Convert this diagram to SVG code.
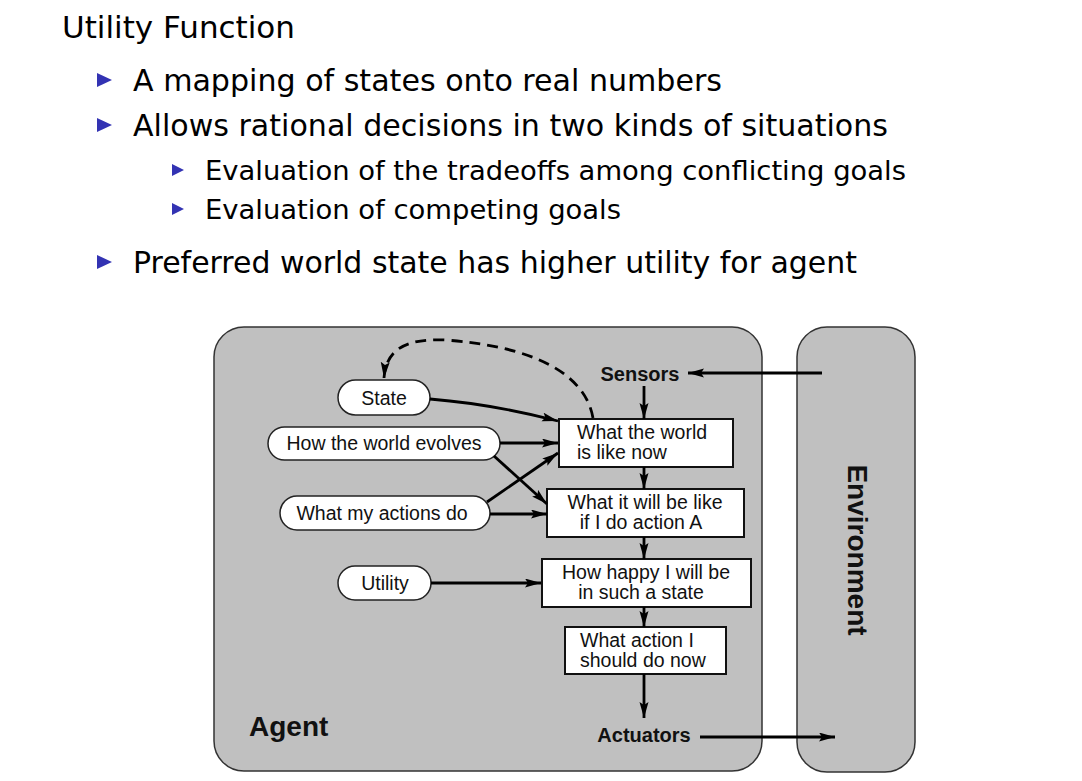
<svg xmlns="http://www.w3.org/2000/svg" width="1082" height="781" viewBox="0 0 1082 781">
<style>
.slide{font-family:"DejaVu Sans",sans-serif;fill:#000}
.t{font-family:"Liberation Sans",Arial,sans-serif;font-size:19.5px;fill:#111}
.b{font-family:"Liberation Sans",Arial,sans-serif;font-weight:bold;fill:#111}
.panel{fill:#c0c0c0;stroke:#333;stroke-width:1.5}
.oval{fill:#fff;stroke:#222;stroke-width:1.5}
.box{fill:#fff;stroke:#111;stroke-width:2}
.bul{fill:#3333b3}
.ar{fill:none;stroke:#000;stroke-width:2.8;marker-end:url(#ah)}
.dash{fill:none;stroke:#000;stroke-width:2.8;stroke-dasharray:11 7;marker-end:url(#ah)}
</style>
<defs>
<marker id="ah" markerUnits="userSpaceOnUse" markerWidth="17" markerHeight="10" refX="16" refY="4.5" orient="auto">
<path d="M0,0 L16,4.5 L0,9 L3,4.5 Z" fill="#000"/>
</marker>
</defs>
<rect width="1082" height="781" fill="#fff"/>
<g id="slide-text">
<text class="slide" x="62" y="38" font-size="31" textLength="233" lengthAdjust="spacingAndGlyphs">Utility Function</text>
<polygon class="bul" points="97,73 112,80 97,87"/>
<text class="slide" x="133" y="91" font-size="30" textLength="589" lengthAdjust="spacingAndGlyphs">A mapping of states onto real numbers</text>
<polygon class="bul" points="97,118 112,125 97,132"/>
<text class="slide" x="133" y="136" font-size="30" textLength="755" lengthAdjust="spacingAndGlyphs">Allows rational decisions in two kinds of situations</text>
<polygon class="bul" points="172,164 184,170 172,176"/>
<text class="slide" x="205" y="180" font-size="27" textLength="701" lengthAdjust="spacingAndGlyphs">Evaluation of the tradeoffs among conflicting goals</text>
<polygon class="bul" points="172,203 184,209 172,215"/>
<text class="slide" x="205" y="219" font-size="27" textLength="416" lengthAdjust="spacingAndGlyphs">Evaluation of competing goals</text>
<polygon class="bul" points="97,255 112,262 97,269"/>
<text class="slide" x="133" y="273" font-size="30" textLength="724" lengthAdjust="spacingAndGlyphs">Preferred world state has higher utility for agent</text>
</g>
<g id="agent">
<rect class="panel" x="214" y="327" width="548" height="444" rx="30" ry="30"/>
<text class="b" x="249" y="736" font-size="28">Agent</text>
</g>
<g id="environment">
<rect class="panel" x="797" y="327" width="118" height="445" rx="30" ry="30"/>
<text class="b" font-size="28" text-anchor="middle" transform="translate(848,550) rotate(90)">Environment</text>
</g>
<g id="sensors"><text class="b" x="640" y="381" font-size="20" text-anchor="middle">Sensors</text></g>
<g id="actuators"><text class="b" x="644" y="742" font-size="20" text-anchor="middle">Actuators</text></g>
<g id="state">
<rect class="oval" x="338" y="380" width="92" height="35" rx="17.5"/>
<text class="t" x="384" y="405" text-anchor="middle">State</text>
</g>
<g id="world-evolves">
<rect class="oval" x="268" y="427" width="232" height="33" rx="16.5"/>
<text class="t" x="384" y="450" text-anchor="middle">How the world evolves</text>
</g>
<g id="actions-do">
<rect class="oval" x="280" y="496" width="210" height="34" rx="17"/>
<text class="t" x="382" y="520" text-anchor="middle">What my actions do</text>
</g>
<g id="utility">
<rect class="oval" x="338" y="566" width="93" height="34" rx="17"/>
<text class="t" x="385" y="590" text-anchor="middle">Utility</text>
</g>
<g id="world-now">
<rect class="box" x="559" y="419" width="174" height="48"/>
<text class="t" x="577" y="439">What the world</text>
<text class="t" x="577" y="459">is like now</text>
</g>
<g id="will-be-like">
<rect class="box" x="547" y="489" width="197" height="48"/>
<text class="t" x="645" y="509" text-anchor="middle">What it will be like</text>
<text class="t" x="641" y="529" text-anchor="middle">if I do action A</text>
</g>
<g id="how-happy">
<rect class="box" x="542" y="559" width="209" height="48"/>
<text class="t" x="646" y="579" text-anchor="middle">How happy I will be</text>
<text class="t" x="641" y="599" text-anchor="middle">in such a state</text>
</g>
<g id="what-action">
<rect class="box" x="565" y="627" width="161" height="47"/>
<text class="t" x="580" y="647">What action I</text>
<text class="t" x="580" y="667">should do now</text>
</g>
<g id="connectors">
<path class="ar" d="M822,373 L688,373"/>
<path class="ar" d="M644,386 L644,419"/>
<path class="ar" d="M644,467 L644,489"/>
<path class="ar" d="M644,537 L644,559"/>
<path class="ar" d="M644,607 L644,627"/>
<path class="ar" d="M644,674 L644,718"/>
<path class="ar" d="M700,737 L835,737"/>
<path class="dash" d="M593,418 C585,372 530,346 445,340 C402,338 386,352 384,378"/>
<path class="ar" d="M430,399 Q492,404 558,421"/>
<path class="ar" d="M500,443 L558,443"/>
<path class="ar" d="M494,456 L547,504"/>
<path class="ar" d="M487,502 L558,453"/>
<path class="ar" d="M490,514 L547,514"/>
<path class="ar" d="M431,583 L541,583"/>
</g>
</svg>
